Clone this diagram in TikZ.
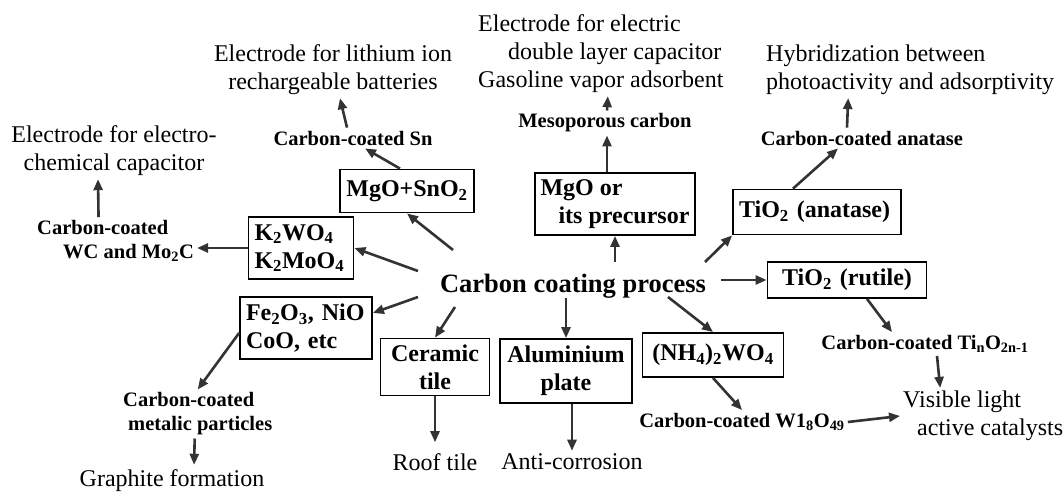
\documentclass[tikz,border=0pt]{standalone}
\usepackage{fontspec}
\setmainfont{Liberation Serif}
\usetikzlibrary{arrows.meta}

\begin{document}
\begin{tikzpicture}[x=1pt, y=-1pt,
    txt/.style={inner sep=3pt, font=\fontsize{24}{28}\selectfont},
    lbl/.style={inner sep=3pt, font=\fontsize{20.5}{24}\selectfont\bfseries},
    box/.style={draw, line width=1.8pt, inner xsep=6pt, inner ysep=0pt,
      font=\fontsize{24}{28}\selectfont\bfseries},
    arr/.style={draw=black!80, line width=2.6pt, -{Triangle[length=11pt, width=9pt]}}]
  \useasboundingbox (0,0) rectangle (1063,493);

  % centre
  \node[inner sep=0pt, font=\fontsize{26.5}{30}\selectfont\bfseries] (cp) at (573,286) {Carbon coating process};

  % substrates
  \node[box, text width=122pt, minimum height=43pt, align=center] (mgsn) at (407,191) {MgO+SnO\textsubscript{2}};
  \node[box, text width=93pt, minimum height=62pt, align=left] (k2) at (301,248) {K\textsubscript{2}WO\textsubscript{4}\\K\textsubscript{2}MoO\textsubscript{4}};
  \node[box, text width=120pt, minimum height=62pt, align=left] (fe) at (306,328) {Fe\textsubscript{2}O\textsubscript{3}, NiO\\CoO, etc};
  \node[box, text width=97pt, minimum height=57pt, align=center] (ce) at (435,367) {Ceramic\\tile};
  \node[box, text width=120pt, minimum height=64pt, align=center] (al) at (566,371) {Aluminium\\plate};
  \node[box, text width=129pt, minimum height=44pt, align=center] (nh) at (713,355) {(NH\textsubscript{4})\textsubscript{2}WO\textsubscript{4}};
  \node[box, text width=147pt, minimum height=36pt, align=center] (ru) at (847,280) {TiO\textsubscript{2} (rutile)};
  \node[box, text width=156pt, minimum height=45pt, align=left] (an) at (817,212) {TiO\textsubscript{2} (anatase)};
  \node[box, inner xsep=3pt, minimum width=160pt, minimum height=62pt, align=left] (mgo) at (615,204) {MgO or\\\hspace*{18pt}its precursor};

  % carbon-coated products
  \node[lbl] (csn) at (353,138) {Carbon-coated Sn};
  \node[lbl, align=left, anchor=west] (wc) at (34,241) {Carbon-coated\\\hspace*{26pt}WC and Mo\textsubscript{2}C};
  \node[lbl, align=left, anchor=west] (mp) at (120,414) {Carbon-coated\\\hspace*{5pt}metalic particles};
  \node[lbl] (mc) at (605,123) {Mesoporous carbon};
  \node[lbl] (ca) at (862,138) {Carbon-coated anatase};
  \node[lbl] (cti) at (925,344) {Carbon-coated Ti\textsubscript{n}O\textsubscript{2n-1}};
  \node[lbl] (cw) at (742,422) {Carbon-coated W1\textsubscript{8}O\textsubscript{49}};

  % applications
  \node[txt, align=center] (lib) at (333,70) {Electrode for lithium ion\\rechargeable batteries};
  \node[txt, align=center] (elc) at (114,151) {Electrode for electro-\\chemical capacitor};
  \node[txt, align=left, anchor=west] (edl) at (475,54) {Electrode for electric\\\hspace*{30pt}double layer capacitor\\Gasoline vapor adsorbent};
  \node[txt, align=left, anchor=west] (hyb) at (763,70) {Hybridization between\\photoactivity and adsorptivity};
  \node[txt] (roof) at (435,462) {Roof tile};
  \node[txt] (anti) at (572,462) {Anti-corrosion};
  \node[txt] (graph) at (172,481) {Graphite formation};
  \node[txt, align=left, anchor=west] (vis) at (900,416) {Visible light\\\hspace*{14pt}active catalysts};

  % process -> substrates
  \draw[arr] ([shift={(-120,-36)}]cp.center) -- (mgsn.south);
  \draw[arr] ([shift={(-155,-15)}]cp.center) -- (k2.east);
  \draw[arr] ([shift={(-155,11)}]cp.center) -- ([yshift=15pt]fe.east);
  \draw[arr] ([shift={(-118,21)}]cp.center) -- (ce.north);
  \draw[arr] (cp.south -| al.north) -- (al.north);
  \draw[arr] ([shift={(95,11)}]cp.center) -- (nh.north);
  \draw[arr, shorten <=15pt] (cp.east |- ru.west) -- (ru.west);
  \draw[arr] ([shift={(132,-24)}]cp.center) -- (an.south west);
  \draw[arr, shorten <=12pt] (cp.north -| mgo.south) -- (mgo.south);

  % substrates -> products -> uses
  \draw[arr] ([xshift=-7pt]mgsn.north) -- ([xshift=12pt]csn.south);
  \draw[arr] ([xshift=-6pt]csn.north) -- ([xshift=7pt]lib.south);
  \draw[arr] (k2.west) -- (wc.east |- k2.west);
  \draw[arr] ([xshift=-17pt]wc.north) -- ([xshift=-16pt]elc.south);
  \draw[arr] ([yshift=-5pt]fe.west) -- (mp.north);
  \draw[arr, shorten >=2pt] ([xshift=-3pt]mp.south) -- ([xshift=22pt]graph.north);
  \draw[arr, shorten >=8pt] (ce.south) -- (roof.north);
  \draw[arr] (al.south -| anti.north) -- (anti.north);
  \draw[arr] (nh.south) -- (cw.north);
  \draw[arr] (cw.east) -- (vis.west);
  \draw[arr] ([xshift=20pt]ru.south) -- ([xshift=-33pt]cti.north);
  \draw[arr] ([xshift=12pt]cti.south) -- ([xshift=-43pt]vis.north);
  \draw[arr] ([xshift=-24pt]an.north) -- ([xshift=-24pt]ca.south);
  \draw[arr] ([xshift=-15pt]ca.north) -- ([xshift=-62pt]hyb.south);
  \draw[arr] ([xshift=-8pt]mgo.north) -- ([xshift=2pt]mc.south);
  \draw[arr] ([xshift=2pt]mc.north) -- ([xshift=7pt]edl.south);
\end{tikzpicture}
\end{document}
